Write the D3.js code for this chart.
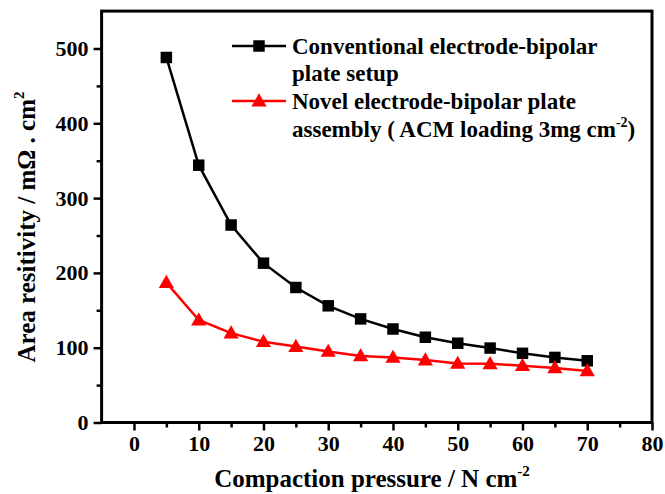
<!DOCTYPE html>
<html>
<head>
<meta charset="utf-8">
<script src="https://cdn.jsdelivr.net/npm/d3@7"></script>
<style>
  html, body { margin: 0; padding: 0; background: #fff; }
  svg { display: block; }
  text { font-family: "Liberation Serif", "Times New Roman", serif; font-weight: bold; fill: #000; }
</style>
</head>
<body>
<svg id="chart" width="665" height="494"></svg>
<script>
// ---- data ----
const pressure = [5, 10, 15, 20, 25, 30, 35, 40, 45, 50, 55, 60, 65, 70];
const conventional = [488, 344, 264, 213, 180.5, 156, 138.5, 125, 114, 106, 99.5, 92.5, 87, 82.5];
const novel = [187, 137, 119.5, 108, 101.5, 95, 89, 87, 83.5, 79, 78.5, 76, 73, 69];
const xTicks = [0, 10, 20, 30, 40, 50, 60, 70, 80];
const yTicks = [0, 100, 200, 300, 400, 500];
const seriesNames = ["Conventional electrode-bipolar", "plate setup",
                     "Novel electrode-bipolar plate", "assembly ( ACM loading 3mg cm"];

const svg = d3.select("#chart");
const x = d3.scaleLinear().domain([-5, 80]).range([101.6, 652]);
const y = d3.scaleLinear().domain([0, 550]).range([422.5, 11.1]);

// minor ticks
const xMinor = d3.range(-5, 81, 5).filter(v => xTicks.indexOf(v) < 0 && v > -5);
const yMinor = d3.range(50, 550, 100);

svg.append("g").attr("transform", `translate(0,${y(0)})`)
  .call(d3.axisBottom(x).tickValues(xMinor).tickSize(5).tickSizeOuter(0).tickFormat(""))
  .call(g => g.select(".domain").remove())
  .call(g => g.selectAll("line").attr("stroke-width", 2.5));
svg.append("g").attr("transform", `translate(${x(-5)},0)`)
  .call(d3.axisLeft(y).tickValues(yMinor).tickSize(5).tickSizeOuter(0).tickFormat(""))
  .call(g => g.select(".domain").remove())
  .call(g => g.selectAll("line").attr("stroke-width", 2.5));

// major axes
const gx = svg.append("g").attr("transform", `translate(0,${y(0)})`)
  .call(d3.axisBottom(x).tickValues(xTicks).tickSize(8).tickSizeOuter(0).tickPadding(5).tickFormat(d3.format("d")));
gx.select(".domain").remove();
gx.selectAll("line").attr("stroke-width", 2.5);
gx.selectAll("text").attr("font-size", 22).attr("font-family", "Liberation Serif").attr("font-weight", "bold");

const gy = svg.append("g").attr("transform", `translate(${x(-5)},0)`)
  .call(d3.axisLeft(y).tickValues(yTicks).tickSize(8).tickSizeOuter(0).tickPadding(5).tickFormat(d3.format("d")));
gy.select(".domain").remove();
gy.selectAll("line").attr("stroke-width", 2.5);
gy.selectAll("text").attr("font-size", 22).attr("font-family", "Liberation Serif").attr("font-weight", "bold");

// frame
svg.append("rect")
  .attr("x", x(-5)).attr("y", y(550))
  .attr("width", x(80) - x(-5)).attr("height", y(0) - y(550))
  .attr("fill", "none").attr("stroke", "#000").attr("stroke-width", 3);

// lines
const lineGen = vals => d3.line().x((d, i) => x(pressure[i])).y(d => y(d)).curve(d3.curveLinear)(vals);
svg.append("path").attr("d", lineGen(conventional)).attr("fill", "none").attr("stroke", "#000").attr("stroke-width", 2.5);
svg.append("path").attr("d", lineGen(novel)).attr("fill", "none").attr("stroke", "#ff0000").attr("stroke-width", 2.5);

const sq = d3.symbol().type(d3.symbolSquare).size(132);
const tri = d3.symbol().type(d3.symbolTriangle).size(100);

svg.append("g").selectAll("path").data(conventional).join("path")
  .attr("d", sq).attr("transform", (d, i) => `translate(${x(pressure[i])},${y(d)})`)
  .attr("fill", "#000");
svg.append("g").selectAll("path").data(novel).join("path")
  .attr("d", tri).attr("transform", (d, i) => `translate(${x(pressure[i])},${y(d) + 1})`)
  .attr("fill", "#ff0000");

// legend
const leg = svg.append("g");
leg.append("line").attr("x1", 232).attr("x2", 286).attr("y1", 46).attr("y2", 46).attr("stroke", "#000").attr("stroke-width", 2.5);
leg.append("path").attr("d", sq).attr("transform", "translate(259,46)").attr("fill", "#000");
leg.append("line").attr("x1", 232).attr("x2", 286).attr("y1", 101).attr("y2", 101).attr("stroke", "#ff0000").attr("stroke-width", 2.5);
leg.append("path").attr("d", tri).attr("transform", "translate(259,102)").attr("fill", "#ff0000");

const legY = [54, 81, 109, 137];
seriesNames.forEach((t, i) => {
  const tx = leg.append("text").attr("x", 292).attr("y", legY[i]).attr("font-size", 23).text(t);
  if (i === 3) {
    tx.append("tspan").attr("font-size", 14).attr("dy", -10).text("-2");
    tx.append("tspan").attr("font-size", 23).attr("dy", 10).text(")");
  }
});

// axis titles
const xt = svg.append("text").attr("x", 372).attr("y", 487).attr("text-anchor", "middle").attr("font-size", 25)
  .text("Compaction pressure / N cm");
xt.append("tspan").attr("font-size", 15).attr("dy", -11).text("-2");

const yt = svg.append("text").attr("transform", "translate(35,227) rotate(-90)").attr("text-anchor", "middle").attr("font-size", 25)
  .text("Area resitivity / mΩ . cm");
yt.append("tspan").attr("font-size", 15).attr("dy", -11).text("2");
</script>
</body>
</html>
